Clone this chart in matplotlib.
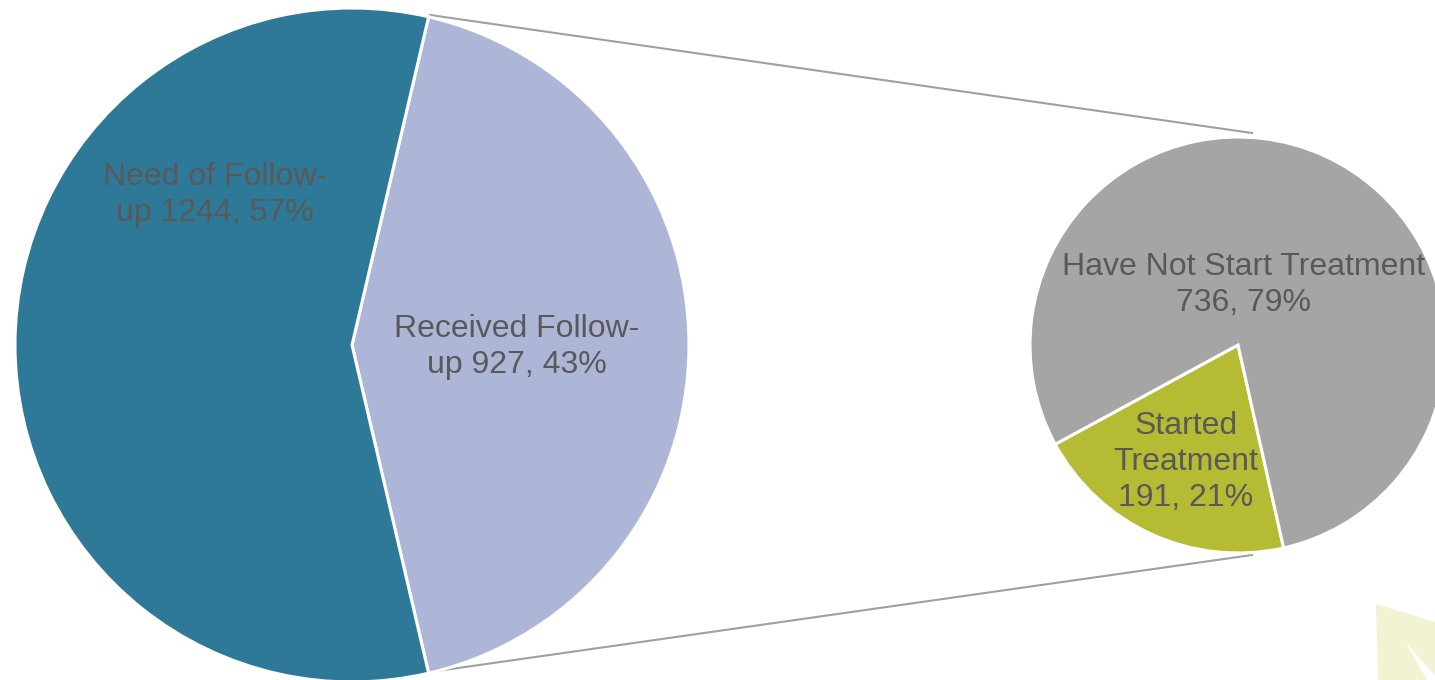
import matplotlib
matplotlib.use("Agg")
import matplotlib.pyplot as plt
from matplotlib.patches import Polygon

# Data
main_labels = ["Received Follow-\nup", "Need of Follow-\nup"]
main_values = [927, 1244]
main_pcts = ["43%", "57%"]
sub_labels = ["Started\nTreatment\n", "Have Not Start Treatment\n"]
sub_values = [191, 736]
sub_pcts = ["21%", "79%"]

main_colors = ["#aeb6d8", "#2e7898"]
sub_colors = ["#b5bb33", "#a5a5a5"]
text_color = "#595959"

W, H = 1435, 680
fig = plt.figure(figsize=(W / 100, H / 100), dpi=100)
ax = fig.add_axes([0, 0, 1, 1])
ax.set_xlim(0, W)
ax.set_ylim(0, H)
ax.set_aspect("equal")
ax.axis("off")

def py(y):
    return H - y

plt.rcParams["font.family"] = ["Liberation Sans", "DejaVu Sans"]

# decoration bottom-right
ax.add_patch(Polygon([(1376, py(604)), (1435, py(622)), (1435, py(680)), (1378, py(680))],
                     closed=True, facecolor="#f2f3d3", edgecolor="none", zorder=0))
ax.add_patch(Polygon([(1406, py(643)), (1435, py(676)), (1435, py(680)), (1427, py(680))],
                     closed=True, facecolor="white", edgecolor="none", zorder=0))

# connector lines
ax.plot([430, 1252], [py(15), py(133)], color="#a0a0a0", lw=1.5, zorder=1)
ax.plot([430, 1252], [py(672), py(555)], color="#a0a0a0", lw=1.5, zorder=1)

# main pie
half = 360 * main_values[0] / sum(main_values) / 2
ax.pie(main_values, colors=main_colors, startangle=half, counterclock=False,
       center=(352, py(345)), radius=337,
       wedgeprops=dict(edgecolor="white", linewidth=2.2), frame=True)

# sub pie
ax.pie(sub_values, colors=sub_colors, startangle=208.5, counterclock=True,
       center=(1238, py(345)), radius=208,
       wedgeprops=dict(edgecolor="white", linewidth=2.2), frame=True)

ax.set_xlim(0, W)
ax.set_ylim(0, H)
ax.axis("off")

fs = 23
ls = 1.26
ax.text(215, py(195), f"{main_labels[1]} {main_values[1]}, {main_pcts[1]}", ha="center", va="center",
        fontsize=fs, color=text_color, linespacing=ls)
ax.text(517, py(347), f"{main_labels[0]} {main_values[0]}, {main_pcts[0]}", ha="center", va="center",
        fontsize=fs, color=text_color, linespacing=ls)
ax.text(1244, py(285), f"{sub_labels[1]}{sub_values[1]}, {sub_pcts[1]}", ha="center", va="center",
        fontsize=fs, color=text_color, linespacing=ls)
ax.text(1186, py(462), f"{sub_labels[0]}{sub_values[0]}, {sub_pcts[0]}", ha="center", va="center",
        fontsize=fs, color=text_color, linespacing=ls)

fig.savefig("out.png", dpi=100)
